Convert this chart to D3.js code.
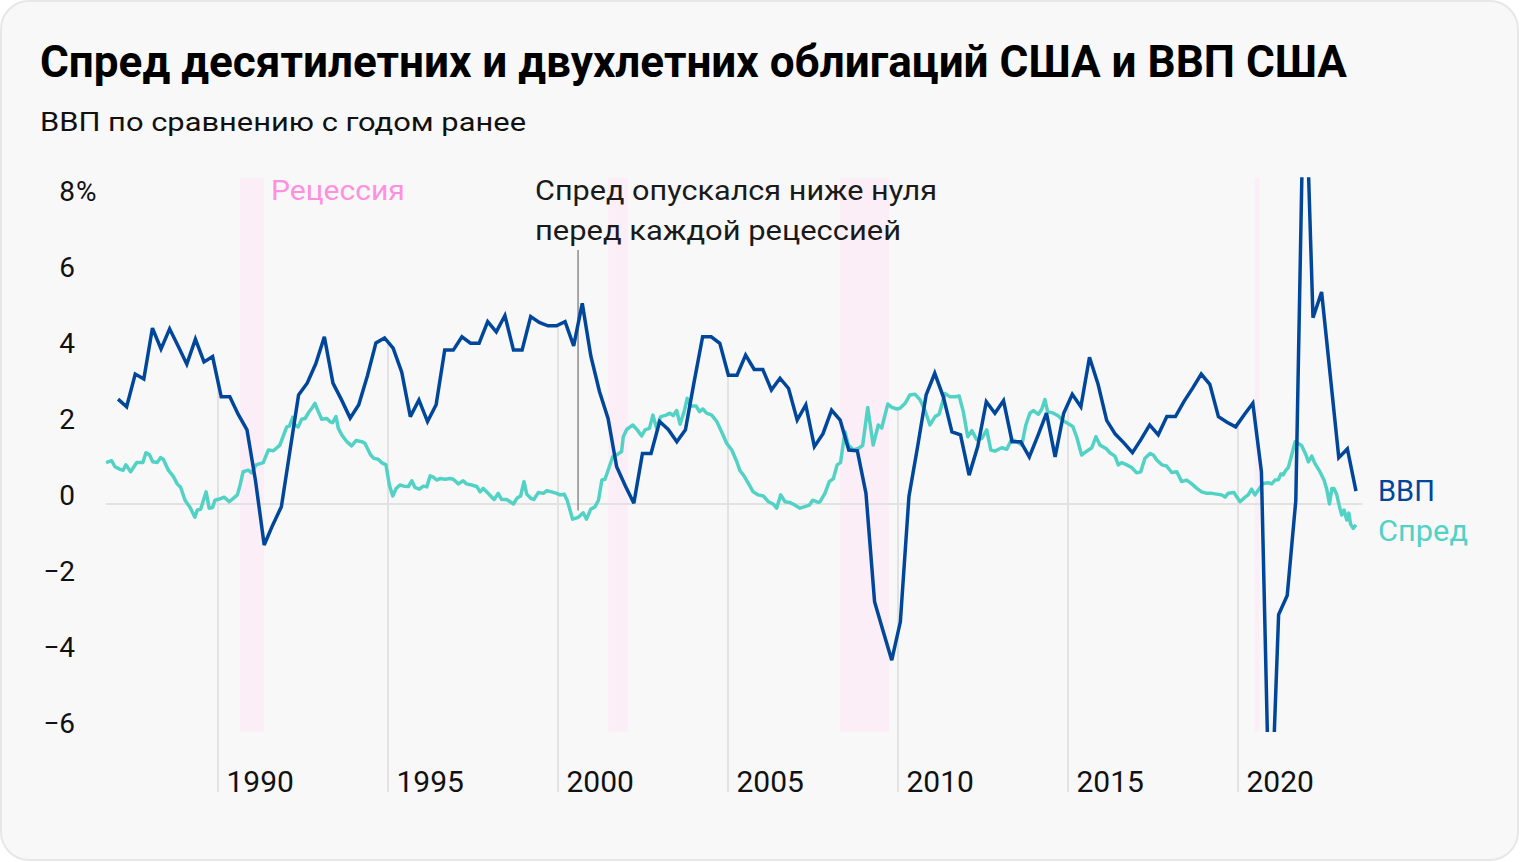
<!DOCTYPE html>
<html>
<head>
<meta charset="utf-8">
<script src="https://cdn.jsdelivr.net/npm/d3@7"></script>
<style>
    body { margin: 0; background: #ffffff; }
    text { font-family: Roboto, "Noto Sans", sans-serif; }
</style>
</head>
<body>
<div id="chart"></div>
<script>
var WIDTH = 1520,
    HEIGHT = 862;

/* Data */
var yearTicks  = [1990, 1995, 2000, 2005, 2010, 2015, 2020];
var valueTicks = [8, 6, 4, 2, 0, -2, -4, -6];

// recession bands, [from, to] in years
var recessions = [[1990.65, 1991.35], [2001.48, 2002.05], [2008.29, 2009.74], [2020.49, 2020.63]];

// GDP, % year over year, quarterly, first and last quarter as placed on the axis
var gdpStart = 1987.06,
    gdpEnd   = 2023.47;
var gdpValues = [
    2.76, 2.56, 3.42, 3.29, 4.63, 4.08, 4.61, 4.15, 3.68, 4.34,
    3.74, 3.88, 2.82, 2.82, 2.35, 1.95, 0.6, -1.08, -0.55, -0.07,
    1.4, 2.87, 3.18, 3.69, 4.40, 3.18, 2.74, 2.26, 2.61, 3.37,
    4.24, 4.37, 4.1, 3.47, 2.30, 2.74, 2.17, 2.61, 4.05, 4.05,
    4.4, 4.23, 4.23, 4.80, 4.53, 4.96, 4.05, 4.05, 4.93, 4.78,
    4.69, 4.69, 4.80, 4.16, 5.28, 3.89, 2.96, 2.25, 0.98, 0.48,
    0.02, 1.33, 1.33, 2.17, 1.96, 1.64, 1.95, 3.20, 4.40, 4.40,
    4.23, 3.39, 3.39, 3.92, 3.54, 3.54, 3.00, 3.31, 3.04, 2.21,
    2.61, 1.51, 1.85, 2.47, 2.21, 1.42, 1.40, 0.28, -2.57, -3.35,
    -4.11, -3.10, 0.2, 1.5, 2.87, 3.44, 2.82, 1.90, 1.82, 0.76,
    1.51, 2.69, 2.39, 2.72, 1.64, 1.64, 1.24, 1.8, 2.39, 1.24,
    2.39, 2.89, 2.56, 3.86, 3.15, 2.2, 1.84, 1.61, 1.35, 1.70,
    2.08, 1.82, 2.30, 2.30, 2.7, 3.05, 3.42, 3.15, 2.3, 2.15,
    2.03, 2.35, 2.65, 0.85, -9.1, -2.91, -2.41, 0.09, 12.2, 4.90,
    5.58, 3.4, 1.22, 1.45, 0.34
];

// 10y - 2y spread, [year, %]
var spreadPoints = [
    [1986.71,1.09],[1986.87,1.14],[1986.97,0.98],[1987.12,0.91],[1987.21,0.89],[1987.29,1.03],[1987.43,0.85],[1987.61,1.09],
    [1987.79,1.09],[1987.88,1.35],[1987.98,1.30],[1988.08,1.11],[1988.21,1.09],[1988.31,1.22],[1988.39,1.18],[1988.54,0.89],
    [1988.69,0.72],[1988.80,0.53],[1988.90,0.44],[1989.03,0.10],[1989.18,-0.09],[1989.32,-0.35],[1989.39,-0.16],[1989.49,-0.14],
    [1989.65,0.32],[1989.74,-0.11],[1989.84,-0.09],[1989.91,0.10],[1990.04,0.13],[1990.18,0.18],[1990.33,0.06],[1990.45,0.15],
    [1990.57,0.24],[1990.65,0.50],[1990.74,0.85],[1990.89,0.89],[1990.99,0.82],[1991.12,1.03],[1991.33,1.09],[1991.48,1.42],
    [1991.63,1.40],[1991.82,1.55],[1991.94,1.84],[1992.02,2.03],[1992.10,2.05],[1992.20,2.28],[1992.26,2.08],[1992.36,2.03],
    [1992.46,2.23],[1992.56,2.25],[1992.66,2.40],[1992.76,2.52],[1992.85,2.65],[1992.95,2.43],[1993.05,2.23],[1993.20,2.25],
    [1993.29,2.17],[1993.37,2.14],[1993.47,2.30],[1993.54,1.99],[1993.64,1.82],[1993.79,1.64],[1993.93,1.53],[1994.06,1.67],
    [1994.23,1.64],[1994.32,1.60],[1994.49,1.29],[1994.59,1.20],[1994.71,1.18],[1994.81,1.09],[1994.94,1.03],[1995.04,0.50],
    [1995.14,0.21],[1995.24,0.41],[1995.35,0.50],[1995.47,0.47],[1995.60,0.46],[1995.70,0.61],[1995.79,0.44],[1995.92,0.39],
    [1996.04,0.47],[1996.14,0.45],[1996.24,0.74],[1996.33,0.71],[1996.43,0.63],[1996.53,0.67],[1996.68,0.65],[1996.82,0.67],
    [1996.92,0.65],[1997.07,0.53],[1997.21,0.61],[1997.31,0.53],[1997.46,0.50],[1997.61,0.46],[1997.71,0.32],[1997.80,0.41],
    [1997.90,0.32],[1998.02,0.21],[1998.12,0.12],[1998.24,0.28],[1998.34,0.12],[1998.49,0.12],[1998.69,0.00],[1998.79,0.15],
    [1998.90,0.21],[1999.00,0.59],[1999.08,0.26],[1999.20,0.15],[1999.29,0.12],[1999.42,0.30],[1999.57,0.28],[1999.67,0.35],
    [1999.81,0.32],[1999.96,0.28],[2000.06,0.24],[2000.18,0.26],[2000.27,0.10],[2000.43,-0.40],[2000.60,-0.35],[2000.74,-0.23],
    [2000.84,-0.40],[2000.96,-0.14],[2001.09,-0.07],[2001.19,0.10],[2001.29,0.63],[2001.38,0.65],[2001.51,0.98],[2001.61,1.25],
    [2001.74,1.30],[2001.87,1.38],[2001.92,1.77],[2002.02,1.96],[2002.20,2.08],[2002.33,1.95],[2002.46,1.79],[2002.56,1.95],
    [2002.69,1.99],[2002.79,2.34],[2002.90,1.99],[2003.02,2.30],[2003.18,2.34],[2003.29,2.39],[2003.39,2.33],[2003.49,2.46],
    [2003.59,2.10],[2003.71,2.43],[2003.80,2.78],[2003.90,2.58],[2004.06,2.58],[2004.16,2.43],[2004.26,2.50],[2004.37,2.39],
    [2004.52,2.34],[2004.67,2.17],[2004.81,1.90],[2004.96,1.60],[2005.11,1.42],[2005.26,1.11],[2005.35,0.88],[2005.47,0.74],
    [2005.60,0.54],[2005.74,0.32],[2005.89,0.24],[2006.04,0.21],[2006.19,0.06],[2006.33,0.00],[2006.43,-0.11],[2006.55,0.24],
    [2006.68,0.06],[2006.82,0.04],[2006.97,-0.03],[2007.12,-0.11],[2007.26,-0.07],[2007.39,-0.03],[2007.49,0.10],[2007.66,0.04],
    [2007.71,0.06],[2007.85,0.28],[2007.98,0.59],[2008.10,0.67],[2008.21,1.03],[2008.31,1.09],[2008.44,1.90],[2008.54,1.55],
    [2008.69,1.42],[2008.83,1.46],[2008.96,1.54],[2009.11,2.54],[2009.27,1.55],[2009.42,2.08],[2009.52,2.00],[2009.70,2.63],
    [2009.81,2.55],[2009.96,2.50],[2010.06,2.52],[2010.21,2.65],[2010.35,2.87],[2010.50,2.89],[2010.65,2.74],[2010.79,2.47],
    [2010.94,2.08],[2011.09,2.30],[2011.21,2.36],[2011.38,2.91],[2011.53,2.82],[2011.68,2.82],[2011.80,2.84],[2011.92,2.43],
    [2012.05,1.77],[2012.17,1.93],[2012.31,1.70],[2012.46,1.72],[2012.61,1.95],[2012.73,1.42],[2012.85,1.39],[2013.05,1.48],
    [2013.20,1.44],[2013.34,1.70],[2013.49,1.64],[2013.64,1.55],[2013.76,2.08],[2013.88,2.39],[2013.98,2.46],[2014.13,2.36],
    [2014.23,2.50],[2014.32,2.75],[2014.40,2.43],[2014.57,2.39],[2014.71,2.32],[2014.86,2.19],[2015.01,2.11],[2015.14,2.04],
    [2015.26,1.75],[2015.40,1.29],[2015.55,1.39],[2015.70,1.48],[2015.82,1.77],[2015.94,1.55],[2016.12,1.46],[2016.24,1.34],
    [2016.38,1.26],[2016.48,1.03],[2016.58,1.09],[2016.73,1.03],[2016.87,0.96],[2017.02,0.82],[2017.14,0.85],[2017.26,1.20],
    [2017.41,1.33],[2017.51,1.29],[2017.61,1.16],[2017.76,1.03],[2017.90,1.00],[2018.05,0.83],[2018.20,0.85],[2018.34,0.59],
    [2018.49,0.63],[2018.64,0.53],[2018.79,0.41],[2018.93,0.32],[2019.08,0.28],[2019.23,0.28],[2019.37,0.26],[2019.52,0.24],
    [2019.62,0.18],[2019.71,0.28],[2019.88,0.30],[2020.06,0.06],[2020.21,0.18],[2020.30,0.24],[2020.40,0.39],[2020.50,0.24],
    [2020.63,0.41],[2020.73,0.54],[2020.89,0.56],[2020.99,0.53],[2021.09,0.63],[2021.19,0.64],[2021.26,0.79],[2021.33,0.77],
    [2021.41,0.89],[2021.48,0.96],[2021.58,1.29],[2021.68,1.64],[2021.77,1.59],[2021.87,1.54],[2022.00,1.29],[2022.07,1.11],
    [2022.17,1.26],[2022.26,1.07],[2022.41,0.85],[2022.53,0.63],[2022.61,0.39],[2022.69,0.00],[2022.76,0.41],[2022.82,0.41],
    [2022.90,0.26],[2022.98,-0.05],[2023.05,-0.29],[2023.12,-0.16],[2023.20,-0.42],[2023.26,-0.24],[2023.31,-0.53],[2023.39,-0.64],
    [2023.47,-0.55]
];

/* Texts */
var titleText    = "Спред десятилетних и двухлетних облигаций США и ВВП США";
var subtitleText = "ВВП по сравнению с годом ранее";
var noteLines    = ["Спред опускался ниже нуля", "перед каждой рецессией"];
var noteWidths   = [402, 366];
var noteYear     = 2000.59;

/* Colors */
var GDP_COLOR    = "#00479b",
    SPREAD_COLOR = "#52d2c5",
    BAND_COLOR   = "#fbeef7",
    GRID_COLOR   = "#e2e2e2";

/**
 * Linear interpolation of a {t, v} series at year t
 */
function valueAt(series, t){
    var i = d3.bisector(function(d){ return d.t; }).left(series, t);
    if (i <= 0) return series[0].v;
    if (i >= series.length) return series[series.length - 1].v;
    var a = series[i - 1], b = series[i];
    return a.v + (b.v - a.v) * (t - a.t) / (b.t - a.t);
}

function drawChart(element){
    var svg = d3.select(element)
        .append("svg")
            .attr("width", WIDTH)
            .attr("height", HEIGHT);

    /* Card */
    svg.append("rect")
        .attr("x", 1).attr("y", 1)
        .attr("width", WIDTH - 3).attr("height", HEIGHT - 3)
        .attr("rx", 28)
        .attr("fill", "#f8f8f8")
        .attr("stroke", "#e7e7e7")
        .attr("stroke-width", 2);

    /* Scales */
    var x = d3.scaleLinear().domain([1990, 2020]).range([218, 1238]);
    var y = d3.scaleLinear().domain([0, 8]).range([504, 200]);
    var gdpT = d3.scaleLinear().domain([0, gdpValues.length - 1]).range([gdpStart, gdpEnd]);

    var gdp = gdpValues.map(function(v, i){ return {t: gdpT(i), v: v}; });
    var spread = spreadPoints.map(function(d){ return {t: d[0], v: d[1]}; });

    var bandTop = y(8.58), bandBottom = y(-6);

    /* Title */
    svg.append("text")
        .attr("x", 40).attr("y", 77)
        .attr("font-size", 44)
        .attr("font-weight", 700)
        .attr("fill", "#000")
        .attr("textLength", 1307)
        .attr("lengthAdjust", "spacingAndGlyphs")
        .text(titleText);
    svg.append("text")
        .attr("x", 40).attr("y", 131)
        .attr("font-size", 26)
        .attr("fill", "#111")
        .attr("textLength", 486)
        .attr("lengthAdjust", "spacingAndGlyphs")
        .text(subtitleText);

    /* Recession bands */
    svg.append("g").selectAll("rect")
        .data(recessions)
        .enter()
        .append("rect")
            .attr("x", function(d){ return x(d[0]); })
            .attr("width", function(d){ return x(d[1]) - x(d[0]); })
            .attr("y", bandTop)
            .attr("height", bandBottom - bandTop)
            .attr("fill", BAND_COLOR);

    svg.append("text")
        .attr("x", x(recessions[0][1]) + 7).attr("y", 200)
        .attr("font-size", 28)
        .attr("fill", "#ff8fdf")
        .attr("textLength", 134)
        .attr("lengthAdjust", "spacingAndGlyphs")
        .text("Рецессия");

    /* Vertical grid: from the bottom up to the highest line */
    svg.append("g").selectAll("line")
        .data(yearTicks)
        .enter()
        .append("line")
            .attr("x1", function(d){ return x(d); })
            .attr("x2", function(d){ return x(d); })
            .attr("y1", function(d){ return y(Math.max(valueAt(gdp, d), valueAt(spread, d))); })
            .attr("y2", 792)
            .attr("stroke", GRID_COLOR)
            .attr("stroke-width", 2);

    /* Zero line */
    svg.append("line")
        .attr("x1", x(1986.7)).attr("x2", x(2023.65))
        .attr("y1", y(0)).attr("y2", y(0))
        .attr("stroke", GRID_COLOR)
        .attr("stroke-width", 2);

    /* Axes */
    var yAxis = svg.append("g")
        .attr("class", "y-axis")
        .attr("transform", "translate(75,0)")
        .call(d3.axisLeft(y).tickValues(valueTicks).tickSize(0).tickPadding(0).tickFormat(d3.format("d")));
    yAxis.select(".domain").remove();
    yAxis.selectAll("text")
        .attr("dy", 0)
        .attr("font-size", 28)
        .attr("font-family", null)
        .attr("fill", "#111");
    yAxis.selectAll(".tick")
        .filter(function(d){ return d === 8; })
        .append("text")
            .attr("x", 1)
            .attr("text-anchor", "start")
            .attr("font-size", 28)
            .attr("fill", "#111")
            .text("%");

    var xAxis = svg.append("g")
        .attr("class", "x-axis")
        .attr("transform", "translate(0,792)")
        .call(d3.axisBottom(x).tickValues(yearTicks).tickSize(0).tickPadding(0).tickFormat(d3.format("d")));
    xAxis.select(".domain").remove();
    xAxis.selectAll("text")
        .attr("dy", 0)
        .attr("x", 8)
        .attr("text-anchor", "start")
        .attr("font-size", 30)
        .attr("font-family", null)
        .attr("fill", "#111");

    /* Annotation */
    svg.append("line")
        .attr("x1", x(noteYear)).attr("x2", x(noteYear))
        .attr("y1", 250).attr("y2", y(-0.17))
        .attr("stroke", "#8c8c8c")
        .attr("stroke-width", 1.5);
    svg.append("g").selectAll("text")
        .data(noteLines)
        .enter()
        .append("text")
            .attr("x", 535)
            .attr("y", function(d, i){ return 200 + i * 40; })
            .attr("font-size", 28)
            .attr("fill", "#1a1a1a")
            .attr("textLength", function(d, i){ return noteWidths[i]; })
            .attr("lengthAdjust", "spacingAndGlyphs")
            .text(function(d){ return d; });

    /* Lines */
    svg.append("clipPath")
        .attr("id", "plot-clip")
        .append("rect")
            .attr("x", 90).attr("y", y(8.6))
            .attr("width", 1300).attr("height", y(-6) - y(8.6));

    var line = d3.line()
        .x(function(d){ return x(d.t); })
        .y(function(d){ return y(d.v); });

    var lines = svg.append("g").attr("clip-path", "url(#plot-clip)");
    lines.append("path")
        .datum(spread)
        .attr("d", line)
        .attr("fill", "none")
        .attr("stroke", SPREAD_COLOR)
        .attr("stroke-width", 3.5)
        .attr("stroke-linejoin", "round");
    lines.append("path")
        .datum(gdp)
        .attr("d", line)
        .attr("fill", "none")
        .attr("stroke", GDP_COLOR)
        .attr("stroke-width", 3.5)
        .attr("stroke-linejoin", "miter")
        .attr("stroke-miterlimit", 3);

    /* Labels at line ends */
    svg.append("text")
        .attr("x", 1378).attr("y", 501)
        .attr("font-size", 29)
        .attr("fill", GDP_COLOR)
        .text("ВВП");
    svg.append("text")
        .attr("x", 1378).attr("y", 541)
        .attr("font-size", 29)
        .attr("fill", SPREAD_COLOR)
        .attr("textLength", 90)
        .attr("lengthAdjust", "spacingAndGlyphs")
        .text("Спред");
}

drawChart(document.getElementById("chart"));
</script>
</body>
</html>
